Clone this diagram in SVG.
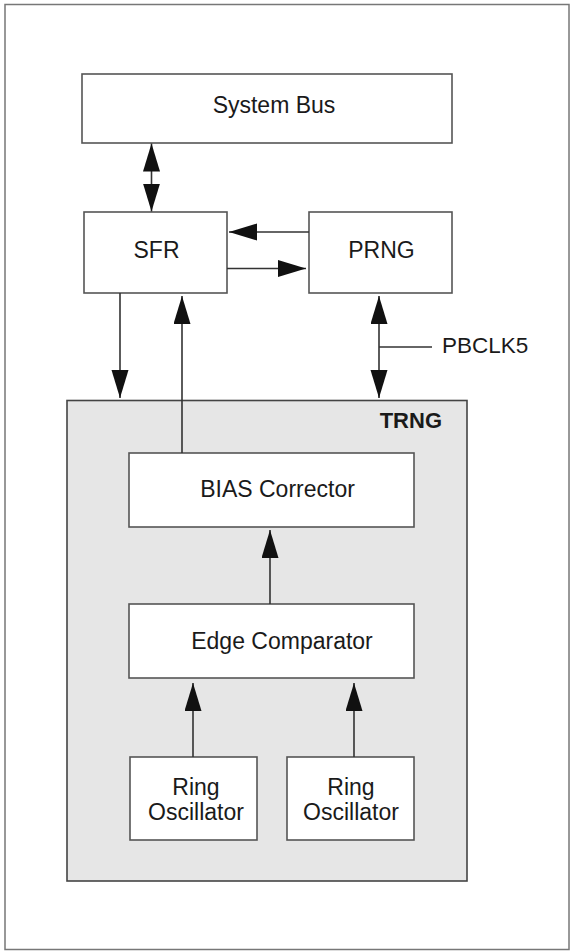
<svg xmlns="http://www.w3.org/2000/svg" width="573" height="951" viewBox="0 0 573 951">
<style>
.box{fill:#fff;stroke:#555;stroke-width:1.6}
.lbl{font-family:"Liberation Sans",Arial,sans-serif;font-size:23px;fill:#1a1a1a;text-anchor:middle}
.ln{stroke:#333;stroke-width:1.6;fill:none}
</style>
<defs>
<marker id="ah" markerUnits="userSpaceOnUse" markerWidth="30" markerHeight="18" refX="28" refY="8.5" orient="auto-start-reverse">
<path d="M0,0 L28,8.5 L0,17 z" fill="#111"/>
</marker>
</defs>
<rect x="5" y="4.5" width="564" height="945" fill="#fff" stroke="#777" stroke-width="1.5"/>
<g id="trng">
<rect x="67" y="400.5" width="400" height="480.5" fill="#e6e6e6" stroke="#444" stroke-width="1.6"/>
<text x="442" y="428" font-family="Liberation Sans,Arial,sans-serif" font-size="22" font-weight="bold" fill="#1a1a1a" text-anchor="end">TRNG</text>
</g>
<g id="systembus">
<rect class="box" x="82" y="74" width="370" height="69"/>
<text class="lbl" x="274" y="113">System Bus</text>
</g>
<g id="sfr">
<rect class="box" x="84" y="212" width="143" height="81"/>
<text class="lbl" x="156.5" y="258">SFR</text>
</g>
<g id="prng">
<rect class="box" x="309" y="212" width="143" height="81"/>
<text class="lbl" x="381.5" y="258">PRNG</text>
</g>
<g id="bias">
<rect class="box" x="129" y="453" width="285" height="74"/>
<text class="lbl" x="277.5" y="497">BIAS Corrector</text>
</g>
<g id="edge">
<rect class="box" x="129" y="604" width="285" height="74"/>
<text class="lbl" x="282" y="649">Edge Comparator</text>
</g>
<g id="ring1">
<rect class="box" x="130" y="757" width="127" height="83"/>
<text class="lbl" x="196" y="795">Ring</text>
<text class="lbl" x="196" y="820">Oscillator</text>
</g>
<g id="ring2">
<rect class="box" x="287" y="757" width="127" height="83"/>
<text class="lbl" x="351" y="795">Ring</text>
<text class="lbl" x="351" y="820">Oscillator</text>
</g>
<g id="connectors">
<line class="ln" x1="151.5" y1="143.5" x2="151.5" y2="211.5" marker-start="url(#ah)" marker-end="url(#ah)"/>
<line class="ln" x1="309" y1="232" x2="229" y2="232" marker-end="url(#ah)"/>
<line class="ln" x1="227" y1="268.5" x2="306" y2="268.5" marker-end="url(#ah)"/>
<line class="ln" x1="120" y1="293" x2="120" y2="398" marker-end="url(#ah)"/>
<line class="ln" x1="182" y1="453" x2="182" y2="296" marker-end="url(#ah)"/>
<line class="ln" x1="379" y1="296" x2="379" y2="398" marker-start="url(#ah)" marker-end="url(#ah)"/>
<line class="ln" x1="379" y1="347" x2="432" y2="347"/>
<text x="442" y="353" font-family="Liberation Sans,Arial,sans-serif" font-size="22.5" fill="#1a1a1a">PBCLK5</text>
<line class="ln" x1="270" y1="604" x2="270" y2="530" marker-end="url(#ah)"/>
<line class="ln" x1="193" y1="757" x2="193" y2="683" marker-end="url(#ah)"/>
<line class="ln" x1="354" y1="757" x2="354" y2="683" marker-end="url(#ah)"/>
</g>
</svg>
